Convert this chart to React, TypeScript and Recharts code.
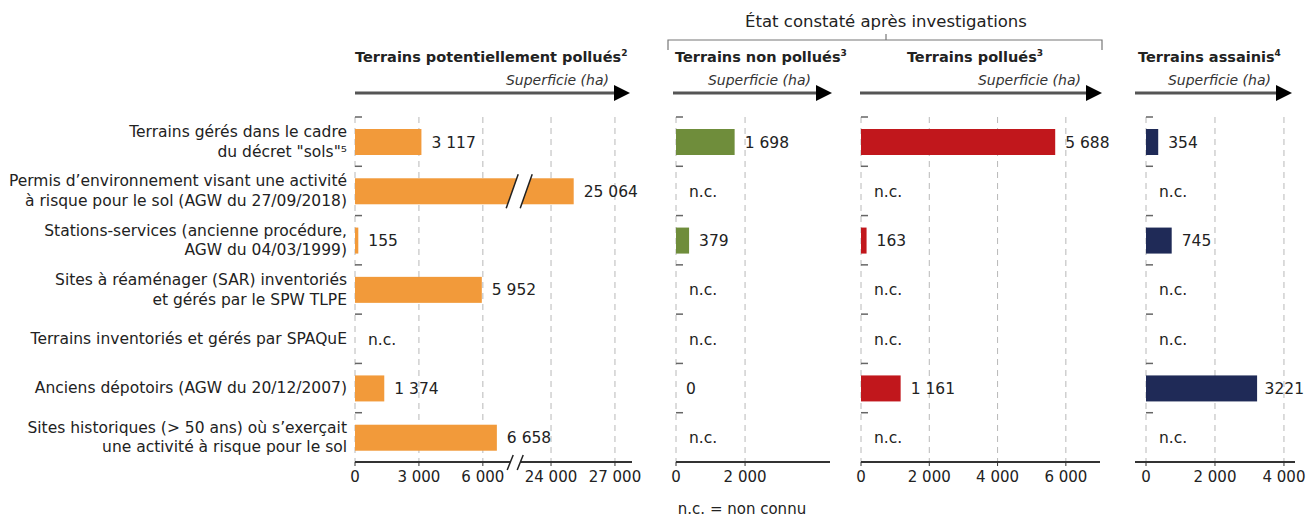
import React from 'react';
import { BarChart, Bar, XAxis, YAxis, CartesianGrid, LabelList } from 'recharts';

// Catégories (libellés sur deux lignes)
const categories: string[][] = [
  ['Terrains gérés dans le cadre', 'du décret "sols"⁵'],
  ['Permis d’environnement visant une activité', 'à risque pour le sol (AGW du 27/09/2018)'],
  ['Stations-services (ancienne procédure,', 'AGW du 04/03/1999)'],
  ['Sites à réaménager (SAR) inventoriés', 'et gérés par le SPW TLPE'],
  ['Terrains inventoriés et gérés par SPAQuE'],
  ['Anciens dépotoirs (AGW du 20/12/2007)'],
  ['Sites historiques (> 50 ans) où s’exerçait', 'une activité à risque pour le sol'],
];

// Superficie (ha) — null = n.c.
const potentiellementPollues = [3117, 25064, 155, 5952, null, 1374, 6658];
const nonPollues = [1698, null, 379, null, null, 0, null];
const pollues = [5688, null, 163, null, null, 1161, null];
const assainis = [354, null, 745, null, null, 3221, null];

const ticksPotentiel = [0, 3000, 6000, 24000, 27000];
const ticksNonPollues = [0, 2000];
const ticksPollues = [0, 2000, 4000, 6000];
const ticksAssainis = [0, 2000, 4000];

// axe coupé du premier panneau
const BREAK_AT = 7800;
const AXIS_GAP = 14800;
const toAxis = (v: number) => (v > 9000 ? v - AXIS_GAP : v);
const fromAxis = (v: number) => (v > BREAK_AT ? v + AXIS_GAP : v);

const FONT = '"DejaVu Sans", Verdana, sans-serif';
const TEXT = '#222';
const fmt = (v: number) => String(v).replace(/\B(?=(\d{3})+(?!\d))/g, ' ');

const CHART_TOP = 100;
const CHART_H = 400;
const PLOT_TOP = 117;
const PLOT_BOTTOM = 462;
const BAND = (PLOT_BOTTOM - PLOT_TOP) / categories.length;

const buildRows = (values: (number | null)[], group: boolean, broken = false) =>
  categories.map((c, i) => {
    const v = values[i];
    return {
      name: String(i),
      v: v == null ? 0 : broken ? toAxis(v) : v,
      lbl: v == null ? 'n.c.' : group ? fmt(v) : String(v),
      broken: broken && v != null && v > 9000,
    };
  });

const CategoryTick = (props: any) => {
  const { x, y, payload, showText, shift } = props;
  const idx = Number(payload.value);
  const lines = categories[idx];
  const top = y - BAND / 2;
  return (
    <g>
      <line x1={x + shift} x2={x + shift + 7} y1={top} y2={top} stroke="#666" strokeWidth={1.5} />
      {showText && (
        <text x={x - 8} y={y} textAnchor="end" fontSize={15.5} fontFamily={FONT} fill={TEXT}>
          {lines.map((l, k) => (
            <tspan key={k} x={x - 8} dy={k === 0 ? (lines.length === 1 ? 5 : -4.5) : 19.5}>
              {l}
            </tspan>
          ))}
        </text>
      )}
    </g>
  );
};

const ValueLabel = (props: any) => {
  const vb = props.viewBox || props;
  const { x, y, width, height } = vb;
  const value = String(props.value);
  const nc = value === 'n.c.';
  const est = value.length * 9.6;
  let tx = x + width + (nc ? 13 : 10);
  if (props.limit && tx + est > props.limit) tx = props.limit - est;
  return (
    <text x={tx} y={y + height / 2 + 5.5} fontSize={15.5} fontFamily={FONT} fill={TEXT}>
      {value}
    </text>
  );
};

const BrokenBar = (props: any) => {
  const { x, y, width, height, fill, payload } = props;
  if (!width || width <= 0) return <g />;
  const rect = <rect x={x} y={y} width={width} height={height} fill={fill} />;
  if (!payload.broken) return rect;
  const bx = x + (width * BREAK_AT) / payload.v - 15;
  const y0 = y + height + 4;
  const y1 = y - 4;
  const dx = 12;
  return (
    <g>
      {rect}
      <polygon points={`${bx},${y0} ${bx + dx},${y1} ${bx + dx + 14},${y1} ${bx + 14},${y0}`} fill="#fff" />
      <line x1={bx} y1={y0} x2={bx + dx} y2={y1} stroke="#222" strokeWidth={1.5} />
      <line x1={bx + 14} y1={y0} x2={bx + dx + 14} y2={y1} stroke="#222" strokeWidth={1.5} />
    </g>
  );
};

type PanelProps = {
  left: number;
  plotRight: number;
  width: number;
  yWidth: number;
  rows: any[];
  domainMax: number;
  ticks: number[];
  color: string;
  showText?: boolean;
  padLeft?: number;
  broken?: boolean;
};

const Panel = ({ left, plotRight, width, yWidth, rows, domainMax, ticks, color, showText = false, padLeft = 0, broken = false }: PanelProps) => {
  const axisTicks = broken ? ticks.map(toAxis) : ticks;
  return (
    <div style={{ position: 'absolute', left, top: CHART_TOP }}>
      <BarChart
        width={width}
        height={CHART_H}
        data={rows}
        layout="vertical"
        margin={{
          top: PLOT_TOP - CHART_TOP,
          right: width - (plotRight - left),
          bottom: CHART_H - (PLOT_BOTTOM - CHART_TOP) - 30,
          left: 0,
        }}
        barCategoryGap={0}
      >
        <CartesianGrid
          horizontal={false}
          stroke="#b8b8b8"
          strokeDasharray="6 5"
          syncWithTicks
          verticalValues={axisTicks}
        />
        <XAxis
          type="number"
          domain={[0, domainMax]}
          ticks={axisTicks}
          tickFormatter={(v: number) => fmt(broken ? fromAxis(v) : v)}
          axisLine={{ stroke: '#333', strokeWidth: 2 }}
          tickLine={{ stroke: '#333' }}
          tickSize={4}
          tickMargin={5}
          tick={{ fontSize: 15, fontFamily: FONT, fill: TEXT }}
          padding={{ left: padLeft, right: 0 }}
          height={30}
          interval={0}
        />
        <YAxis
          type="category"
          dataKey="name"
          width={yWidth}
          axisLine={false}
          tickLine={false}
          tickSize={0}
          tickMargin={0}
          interval={0}
          tick={(p: any) => <CategoryTick {...p} showText={showText} shift={padLeft} />}
        />
        <Bar dataKey="v" fill={color} barSize={26} isAnimationActive={false} shape={(p: any) => <BrokenBar {...p} />}>
          <LabelList dataKey="lbl" content={(p: any) => <ValueLabel {...p} limit={width - 3} />} />
        </Bar>
      </BarChart>
    </div>
  );
};

const headers = [
  { x: 355, anchor: 'start', text: 'Terrains potentiellement pollués', sup: '2', from: 355, to: 630 },
  { x: 675, anchor: 'start', text: 'Terrains non pollués', sup: '3', from: 673, to: 832 },
  { x: 975, anchor: 'middle', text: 'Terrains pollués', sup: '3', from: 860, to: 1102 },
  { x: 1138, anchor: 'start', text: 'Terrains assainis', sup: '4', from: 1135, to: 1292 },
];

export default function App() {
  const axisBreakX = 355 + (BREAK_AT / 13000) * 277 - 6;
  return (
    <div style={{ position: 'absolute', left: 0, top: 0, width: 1306, height: 517, background: '#fff' }}>
      <svg width={1306} height={120} style={{ position: 'absolute', left: 0, top: 0 }}>
        <text x={886} y={27} textAnchor="middle" fontSize={16.5} fontFamily={FONT} fill={TEXT}>
          État constaté après investigations
        </text>
        <path d="M668,50 L668,40 L1102,40 L1102,50 M886,40 L886,34" fill="none" stroke="#777" strokeWidth={1.2} />
        {headers.map((h) => (
          <g key={h.text}>
            <text x={h.x} y={62} textAnchor={h.anchor as any} fontSize={14.5} fontWeight="bold" fontFamily={FONT} fill={TEXT}>
              {h.text}
              <tspan fontSize={9} dy={-6}>{h.sup}</tspan>
            </text>
            <text x={h.to - 21} y={85} textAnchor="end" fontSize={14} fontStyle="italic" fontFamily={FONT} fill="#333">
              Superficie (ha)
            </text>
            <line x1={h.from} x2={h.to - 14} y1={93} y2={93} stroke="#555" strokeWidth={3} />
            <polygon points={`${h.to - 16},85 ${h.to},93 ${h.to - 16},101`} fill="#000" />
          </g>
        ))}
      </svg>
      <Panel left={0} plotRight={632} width={665} yWidth={355} rows={buildRows(potentiellementPollues, true, true)} domainMax={13000} ticks={ticksPotentiel} color="#F29A3A" showText broken />
      <Panel left={666} plotRight={830} width={184} yWidth={10} rows={buildRows(nonPollues, true)} domainMax={4460} ticks={ticksNonPollues} color="#6F8D3B" />
      <Panel left={851} plotRight={1100} width={275} yWidth={10} rows={buildRows(pollues, true)} domainMax={7000} ticks={ticksPollues} color="#C1171C" />
      <Panel left={1125} plotRight={1295} width={181} yWidth={10} rows={buildRows(assainis, false)} domainMax={4320} ticks={ticksAssainis} color="#1F2A57" padLeft={11} />
      <svg width={1306} height={517} style={{ position: 'absolute', left: 0, top: 0, pointerEvents: 'none' }}>
        <polygon points={`${axisBreakX - 8},470 ${axisBreakX - 2},455 ${axisBreakX + 8},455 ${axisBreakX + 2},470`} fill="#fff" />
        <line x1={axisBreakX - 8} y1={470} x2={axisBreakX - 2} y2={455} stroke="#222" strokeWidth={1.5} />
        <line x1={axisBreakX + 2} y1={470} x2={axisBreakX + 8} y2={455} stroke="#222" strokeWidth={1.5} />
        <text x={742} y={514} textAnchor="middle" fontSize={15} fontFamily={FONT} fill={TEXT}>
          n.c. = non connu
        </text>
      </svg>
    </div>
  );
}
